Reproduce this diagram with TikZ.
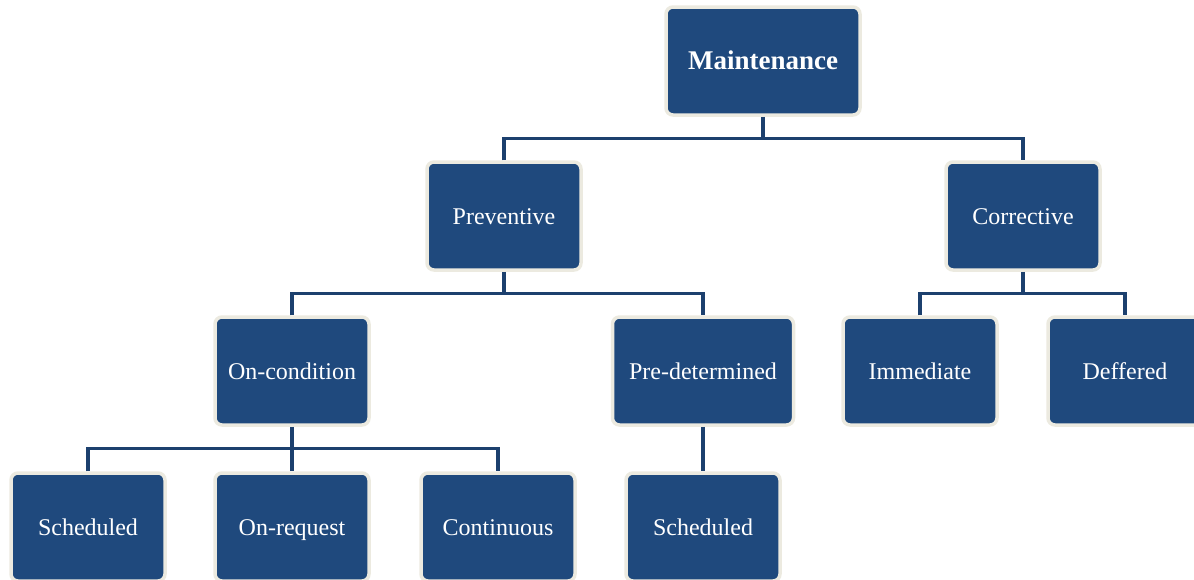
\documentclass[tikz,border=0pt]{standalone}
\usepackage{fontspec}
\setmainfont{Liberation Serif}
\usetikzlibrary{positioning,calc}
\definecolor{boxblue}{RGB}{31,73,125}
\definecolor{boxrim}{RGB}{236,234,224}
\definecolor{linkblue}{RGB}{28,64,110}
\tikzset{
    box/.style={rectangle, rounded corners=7, fill=boxblue, draw=boxrim, line width=3.5,
        text=white, minimum width=154, minimum height=108, inner sep=2,
        text height=18, text depth=2,
        font=\fontsize{24}{28}\selectfont},
    widebox/.style={box, minimum width=181},
    link/.style={draw=linkblue, line width=3.2},
}

\begin{document}
\begin{tikzpicture}[x=1pt,y=-1pt]
		\useasboundingbox (0,0) rectangle (1194,579);
		
		% Text Node
		\node [box, minimum width=194, font=\bfseries\fontsize{27}{31}\selectfont] (main) at (763,61) {Maintenance};
		% Text Node
		\node [box] (prev) at (504,216) {Preventive};
		% Text Node
		\node [box] (corr) at (1023,216) {Corrective};
		% Text Node
		\node [box] (oncond) at (292,371) {On-condition};
		% Text Node
		\node [widebox] (predet) at (703,371) {Pre-determined};
		% Text Node
		\node [box] (immed) at (920,371) {Immediate};
		% Text Node
		\node [box] (deff) at (1125,371) {Deffered};
		% Text Node
		\node [box] (sched) at (88,527) {Scheduled};
		% Text Node
		\node [box] (onreq) at (292,527) {On-request};
		% Text Node
		\node [box] (cont) at (498,527) {Continuous};
		% Text Node
		\node [box] (schedb) at (703,527) {Scheduled};
		
		% Connection
		\draw [link] (main.south) -- ++(0,22) coordinate (busA);
		\draw [link] (prev.north) |- (busA) -| (corr.north);
		
		% Connection
		\draw [link] (prev.south) -- ++(0,22) coordinate (busB);
		\draw [link] (oncond.north) |- (busB) -| (predet.north);
		
		% Connection
		\draw [link] (corr.south) -- ++(0,22) coordinate (busC);
		\draw [link] (immed.north) |- (busC) -| (deff.north);
		
		% Connection
		\draw [link] (oncond.south) -- ++(0,22) coordinate (busD);
		\draw [link] (sched.north) |- (busD) -| (cont.north);
		\draw [link] (busD) -- (onreq.north);
		
		% Connection
		\draw [link] (predet.south) -- (schedb.north);
		
\end{tikzpicture}
\end{document}
